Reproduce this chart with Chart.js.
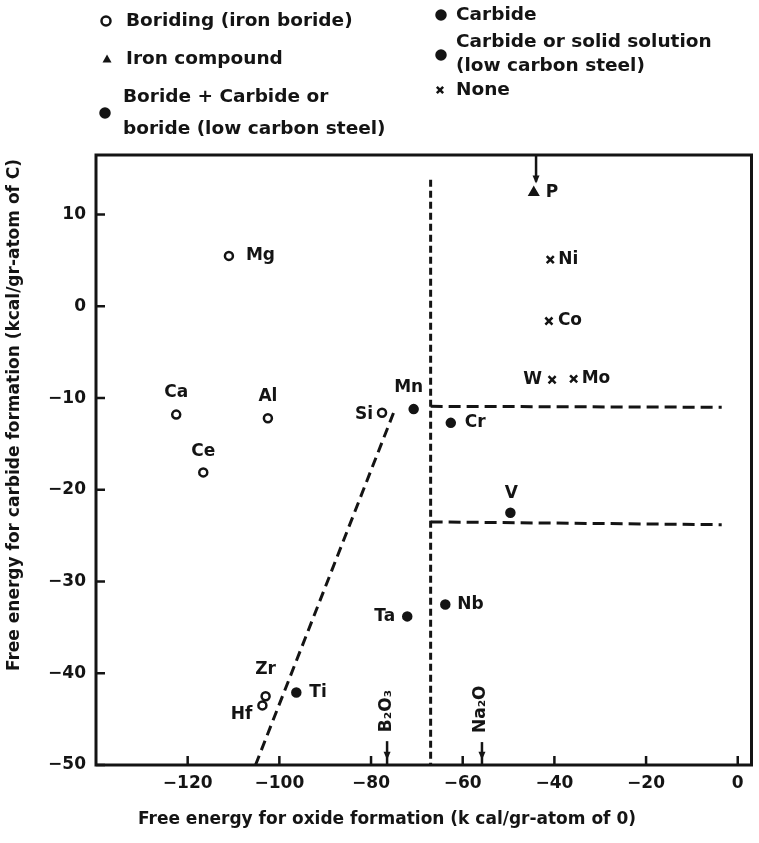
<!DOCTYPE html>
<html>
<head>
<meta charset="utf-8">
<script src="https://cdn.jsdelivr.net/npm/chart.js@4.4.1/dist/chart.umd.min.js"></script>
<style>
  html, body { margin: 0; padding: 0; background: #fff; }
  #wrap { position: relative; width: 759px; height: 843px; }
</style>
</head>
<body>
<div id="wrap"><canvas id="chart"></canvas></div>
<script>
// Axis ticks
const xTicks = [-120, -100, -80, -60, -40, -20, 0];
const yTicks = [10, 0, -10, -20, -30, -40, -50];

// Boriding (iron boride) - open circles
const boridingNames = ['Mg', 'Ca', 'Al', 'Ce', 'Si', 'Zr', 'Hf'];
const boridingX = [-111, -122.5, -102.5, -116.6, -77.6, -103, -103.7];
const boridingY = [5.5, -11.8, -12.2, -18.1, -11.6, -42.5, -43.5];

// Iron compound - triangle
const ironNames = ['P'];
const ironX = [-44.5];
const ironY = [12.4];

// Boride + Carbide or boride (low carbon steel)
const borideCarbideNames = ['Ti'];
const borideCarbideX = [-96.3];
const borideCarbideY = [-42.1];

// Carbide
const carbideNames = ['Ta', 'Nb', 'V'];
const carbideX = [-72.1, -63.8, -49.6];
const carbideY = [-33.8, -32.5, -22.5];

// Carbide or solid solution (low carbon steel)
const solidNames = ['Mn', 'Cr'];
const solidX = [-70.7, -62.6];
const solidY = [-11.2, -12.7];

// None - crosses
const noneNames = ['Ni', 'Co', 'W', 'Mo'];
const noneX = [-40.9, -41.2, -40.5, -35.8];
const noneY = [5.1, -1.6, -8.0, -7.9];

// Dashed boundary lines
const vertLineX = [-67, -67];
const vertLineY = [13.8, -50];
const upperLineX = [-67, -3.5];
const upperLineY = [-10.9, -11.0];
const lowerLineX = [-67, -3.5];
const lowerLineY = [-23.5, -23.8];
const diagLineX = [-105.2, -75];
const diagLineY = [-50, -11.5];

// Reference arrows (P off the top, oxides on the x axis)
const arrowNames = ['', 'B₂O₃', 'Na₂O'];
const arrowX = [-44, -76.5, -55.8];
const arrowTopY = [16.5, -47.4, -47.5];
const arrowTipY = [13.6, -49.2, -49.2];

const FONT = '"DejaVu Sans", sans-serif';
const INK = '#141414';

const pts = (xs, ys) => xs.map((x, i) => ({ x, y: ys[i] }));
const minus = (v) => String(v).replace('-', '\u2212');

// where each element name sits relative to its marker: [dx, dy, align]
const labelPlace = {
  Mg: [17, 0, 'left'], Ca: [0, -22, 'center'], Al: [0, -22, 'center'],
  Ce: [0, -21, 'center'], Si: [-9, 2, 'right'], Zr: [0, -27, 'center'],
  Hf: [-10, 9, 'right'], P: [12, 0, 'left'], Ti: [13, 0, 'left'],
  Ta: [-12, 0, 'right'], Nb: [12, 0, 'left'], V: [1, -19, 'center'],
  Mn: [-5, -22, 'center'], Cr: [14, 0, 'left'], Ni: [8, 0, 'left'],
  Co: [9, 0, 'left'], W: [-10, 0, 'right'], Mo: [8, 0, 'left']
};

// legend layout (pixels)
const legendItems = [
  { ds: 0, mx: 106, my: 21, tx: 126, ty: [21] },
  { ds: 1, mx: 107, my: 59, tx: 126, ty: [59] },
  { ds: 2, mx: 105, my: 113, tx: 123, ty: [97, 129] },
  { ds: 3, mx: 441, my: 15, tx: 456, ty: [15] },
  { ds: 4, mx: 441, my: 55, tx: 456, ty: [42, 66] },
  { ds: 5, mx: 440, my: 90, tx: 456, ty: [90] }
];

const drawMarker = (ctx, style, fill, x, y, r) => {
  ctx.save();
  ctx.strokeStyle = INK;
  ctx.fillStyle = fill;
  ctx.lineWidth = 2.5;
  ctx.beginPath();
  if (style === 'triangle') {
    ctx.moveTo(x, y - r);
    ctx.lineTo(x + r, y + r * 0.8);
    ctx.lineTo(x - r, y + r * 0.8);
    ctx.closePath();
    ctx.fill();
  } else if (style === 'crossRot') {
    ctx.moveTo(x - r * 0.7, y - r * 0.7); ctx.lineTo(x + r * 0.7, y + r * 0.7);
    ctx.moveTo(x + r * 0.7, y - r * 0.7); ctx.lineTo(x - r * 0.7, y + r * 0.7);
    ctx.stroke();
  } else {
    ctx.arc(x, y, r, 0, Math.PI * 2);
    ctx.fill();
    ctx.stroke();
  }
  ctx.restore();
};

const annotatePlugin = {
  id: 'annotate',
  afterDraw(chart) {
    const { ctx, chartArea: a, scales: { x, y } } = chart;
    ctx.save();

    // frame
    ctx.strokeStyle = INK;
    ctx.lineWidth = 3;
    ctx.strokeRect(a.left, a.top, a.right - a.left, a.bottom - a.top);

    // inward tick marks
    ctx.lineWidth = 2.5;
    ctx.beginPath();
    xTicks.forEach((v) => {
      const px = x.getPixelForValue(v);
      ctx.moveTo(px, a.bottom); ctx.lineTo(px, a.bottom - 9);
    });
    yTicks.forEach((v) => {
      const py = y.getPixelForValue(v);
      ctx.moveTo(a.left, py); ctx.lineTo(a.left + 9, py);
    });
    ctx.stroke();

    // arrows
    arrowX.forEach((v, i) => {
      const px = x.getPixelForValue(v);
      const top = y.getPixelForValue(arrowTopY[i]);
      const tip = y.getPixelForValue(arrowTipY[i]);
      const end = i === 0 ? tip : a.bottom;
      ctx.lineWidth = 2.5;
      ctx.beginPath();
      ctx.moveTo(px, top); ctx.lineTo(px, end);
      ctx.stroke();
      ctx.beginPath();
      ctx.moveTo(px, tip + 2);
      ctx.lineTo(px - 3.5, tip - 6);
      ctx.lineTo(px + 3.5, tip - 6);
      ctx.closePath();
      ctx.fillStyle = INK;
      ctx.fill();
      if (arrowNames[i]) {
        ctx.save();
        ctx.translate(px - 1, top - 9);
        ctx.rotate(-Math.PI / 2);
        ctx.font = 'bold 17px ' + FONT;
        ctx.textAlign = 'left';
        ctx.textBaseline = 'middle';
        ctx.fillText(arrowNames[i], 0, 0);
        ctx.restore();
      }
    });

    // element names next to markers
    ctx.fillStyle = INK;
    ctx.font = 'bold 17px ' + FONT;
    ctx.textBaseline = 'middle';
    chart.data.datasets.forEach((ds, i) => {
      if (!ds.names) return;
      chart.getDatasetMeta(i).data.forEach((el, j) => {
        const [dx, dy, align] = labelPlace[ds.names[j]] || [8, 0, 'left'];
        ctx.textAlign = align;
        ctx.fillText(ds.names[j], el.x + dx, el.y + dy);
      });
    });

    // legend
    ctx.font = 'bold 18.5px ' + FONT;
    ctx.textAlign = 'left';
    legendItems.forEach((it) => {
      const ds = chart.data.datasets[it.ds];
      drawMarker(ctx, ds.pointStyle, ds.backgroundColor, it.mx, it.my, 4.5);
      ctx.fillStyle = INK;
      ds.label.split('\n').forEach((t, k) => ctx.fillText(t, it.tx, it.ty[k]));
    });

    // axis titles
    ctx.font = 'bold 17px ' + FONT;
    ctx.textAlign = 'center';
    ctx.fillText('Free energy for oxide formation (k cal/gr-atom of 0)', 387, 820);
    ctx.save();
    ctx.translate(15, 415);
    ctx.rotate(-Math.PI / 2);
    ctx.fillText('Free energy for carbide formation (kcal/gr-atom of C)', 0, 0);
    ctx.restore();

    ctx.restore();
  }
};

const pointSet = (label, names, xs, ys, style, fill, radius) => ({
  label,
  names,
  data: pts(xs, ys),
  pointStyle: style,
  pointRadius: radius,
  pointBorderWidth: 2.5,
  backgroundColor: fill,
  borderColor: INK,
  showLine: false
});

const dashSet = (xs, ys, dash) => ({
  data: pts(xs, ys),
  showLine: true,
  borderColor: INK,
  borderWidth: 3,
  borderDash: dash,
  pointRadius: 0,
  fill: false
});

new Chart(document.getElementById('chart'), {
  type: 'scatter',
  data: {
    datasets: [
      pointSet('Boriding (iron boride)', boridingNames, boridingX, boridingY, 'circle', '#fff', 4),
      pointSet('Iron compound', ironNames, ironX, ironY, 'triangle', INK, 4.5),
      pointSet('Boride + Carbide or\nboride (low carbon steel)', borideCarbideNames, borideCarbideX, borideCarbideY, 'circle', INK, 4),
      pointSet('Carbide', carbideNames, carbideX, carbideY, 'circle', INK, 4),
      pointSet('Carbide or solid solution\n(low carbon steel)', solidNames, solidX, solidY, 'circle', INK, 4),
      pointSet('None', noneNames, noneX, noneY, 'crossRot', INK, 5),
      dashSet(vertLineX, vertLineY, [7, 4]),
      dashSet(upperLineX, upperLineY, [12, 6]),
      dashSet(lowerLineX, lowerLineY, [12, 6]),
      dashSet(diagLineX, diagLineY, [10, 6])
    ]
  },
  options: {
    responsive: true,
    maintainAspectRatio: false,
    animation: false,
    layout: { padding: { top: 155, right: 4, left: 0, bottom: 0 } },
    plugins: {
      legend: { display: false },
      tooltip: { enabled: false }
    },
    scales: {
      x: {
        type: 'linear',
        min: -140,
        max: 3,
        afterFit: (s) => { s.height = 78; },
        afterBuildTicks: (s) => { s.ticks = xTicks.map((v) => ({ value: v })); },
        grid: { display: false, drawTicks: false },
        border: { display: false },
        ticks: {
          color: INK,
          padding: 8,
          maxRotation: 0,
          autoSkip: false,
          font: { family: FONT, size: 17, weight: 'bold' },
          callback: minus
        }
      },
      y: {
        type: 'linear',
        min: -50,
        max: 16.5,
        afterFit: (s) => { s.width = 96; },
        afterBuildTicks: (s) => { s.ticks = yTicks.map((v) => ({ value: v })); },
        grid: { display: false, drawTicks: false },
        border: { display: false },
        ticks: {
          color: INK,
          padding: 10,
          autoSkip: false,
          font: { family: FONT, size: 17, weight: 'bold' },
          callback: minus
        }
      }
    }
  },
  plugins: [annotatePlugin]
});
</script>
</body>
</html>
